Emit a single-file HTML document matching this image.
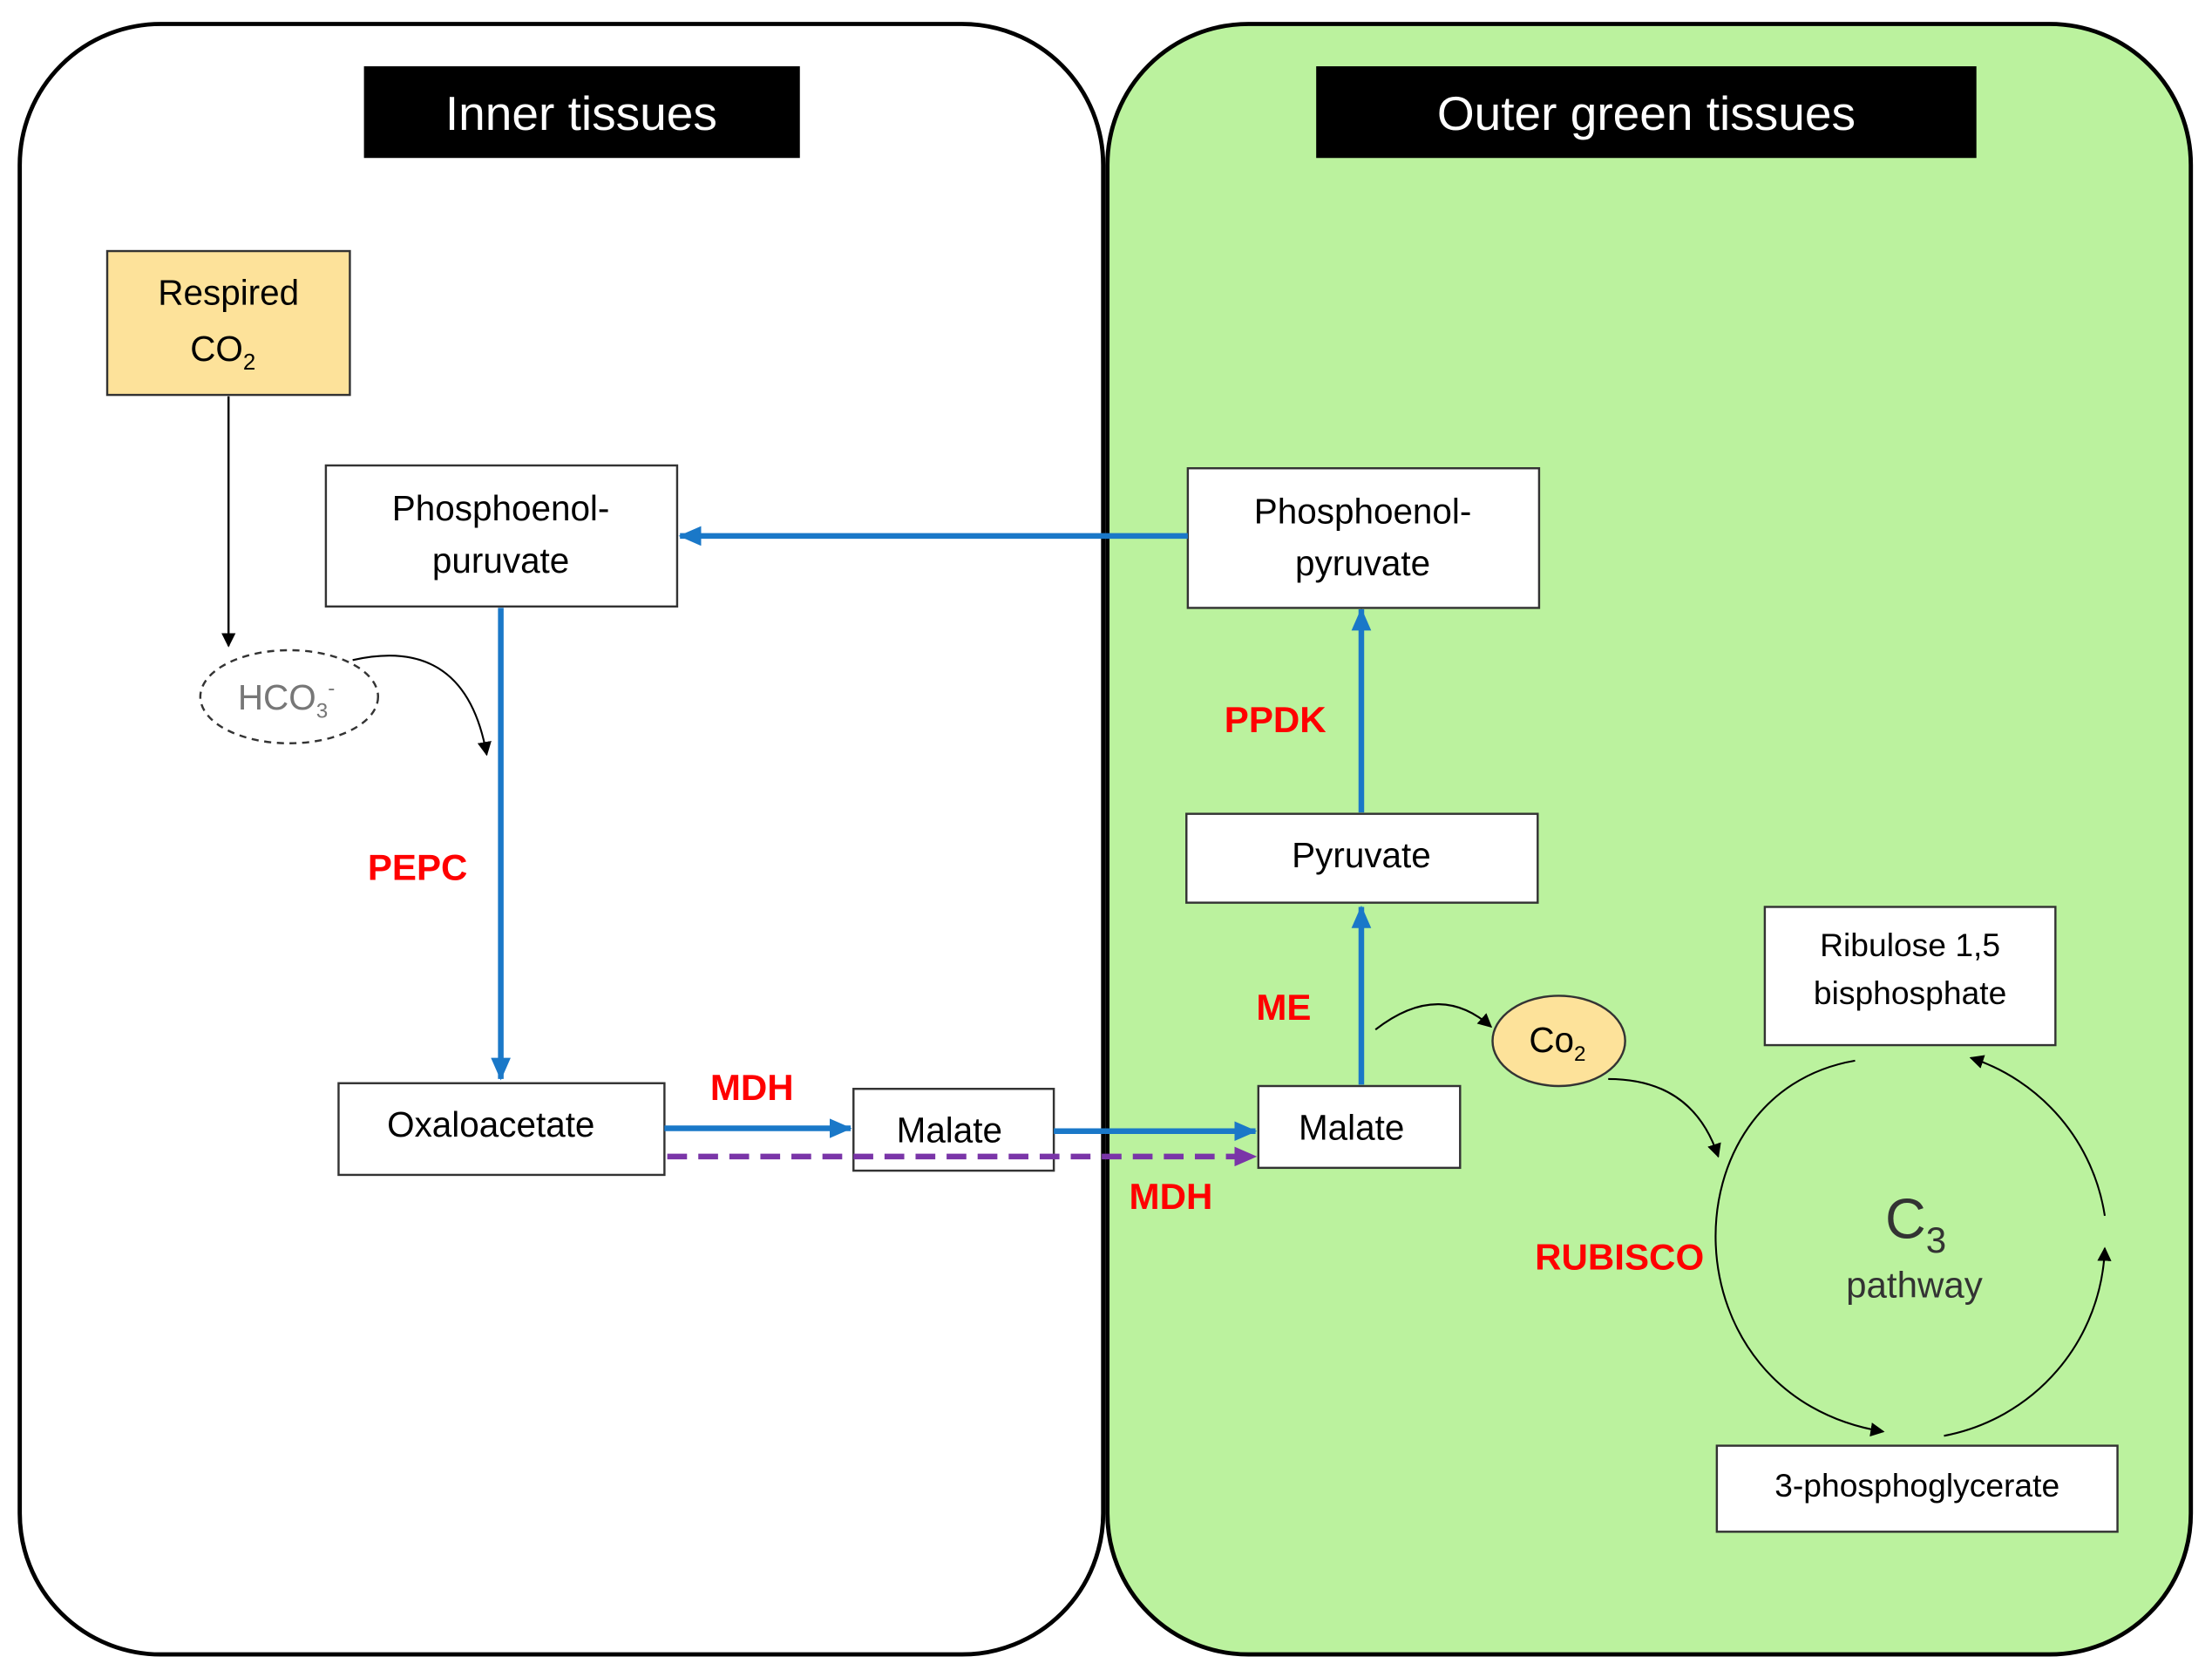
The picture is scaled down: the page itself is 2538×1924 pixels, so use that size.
<!DOCTYPE html>
<html><head><meta charset="utf-8"><style>
html,body{margin:0;padding:0;background:#fff;}
svg{display:block;}
text{font-family:"Liberation Sans",sans-serif;}
</style></head><body>
<svg width="2538" height="1924" viewBox="0 0 1568 1189" preserveAspectRatio="none" xmlns="http://www.w3.org/2000/svg">
<defs>
<marker id="ab" markerWidth="10" markerHeight="10" refX="9" refY="5" orient="auto" markerUnits="userSpaceOnUse"><path d="M0,0 L10,5 L0,10 z" fill="#000"/></marker>
<marker id="abl" markerWidth="16" markerHeight="14" refX="15" refY="7" orient="auto" markerUnits="userSpaceOnUse"><path d="M0,0 L16,7 L0,14 z" fill="#1a78c8"/></marker>
<marker id="apu" markerWidth="16" markerHeight="14" refX="15" refY="7" orient="auto" markerUnits="userSpaceOnUse"><path d="M0,0 L16,7 L0,14 z" fill="#7a35a8"/></marker>
</defs>
<rect width="1568" height="1189" fill="#fff"/>
<rect x="14" y="17" width="768" height="1156" rx="100" fill="#fff" stroke="#000" stroke-width="3"/>
<rect x="785" y="17" width="768" height="1156" rx="100" fill="#bbf29e" stroke="#000" stroke-width="3"/>
<rect x="258" y="47" width="309" height="65" fill="#000"/>
<text x="412" y="92" font-size="34" fill="#fff" text-anchor="middle">Inner tissues</text>
<rect x="933" y="47" width="468" height="65" fill="#000"/>
<text x="1167" y="92" font-size="34" fill="#fff" text-anchor="middle">Outer green tissues</text>

<g font-size="25" text-anchor="middle" fill="#000">
<rect x="76" y="178" width="172" height="102" fill="#fde29a" stroke="#333" stroke-width="1.5"/>
<text x="162" y="216">Respired</text>
<text x="158" y="256">CO<tspan font-size="16" dy="6">2</tspan></text>
<line x1="162" y1="281" x2="162" y2="458" stroke="#000" stroke-width="1.5" marker-end="url(#ab)"/>
<ellipse cx="205" cy="494" rx="63" ry="33" fill="#fff" stroke="#333" stroke-width="1.5" stroke-dasharray="5,4"/>
<text x="203" y="503" fill="#777">HCO<tspan font-size="15" dy="6">3</tspan><tspan font-size="15" dy="-16">-</tspan></text>
<path d="M250,468 Q330,450 345,535" fill="none" stroke="#000" stroke-width="1.3" marker-end="url(#ab)"/>

<rect x="231" y="330" width="249" height="100" fill="#fff" stroke="#333" stroke-width="1.5"/>
<text x="355" y="369">Phosphoenol-</text>
<text x="355" y="406">puruvate</text>
<line x1="355" y1="431" x2="355" y2="765" stroke="#1a78c8" stroke-width="4" marker-end="url(#abl)"/>
<text x="296" y="624" fill="#f00" font-weight="bold" font-size="26">PEPC</text>

<rect x="240" y="768" width="231" height="65" fill="#fff" stroke="#333" stroke-width="1.5"/>
<text x="348" y="806">Oxaloacetate</text>
<text x="533" y="780" fill="#f00" font-weight="bold" font-size="26">MDH</text>
<line x1="471" y1="800" x2="603" y2="800" stroke="#1a78c8" stroke-width="4" marker-end="url(#abl)"/>
<rect x="605" y="772" width="142" height="58" fill="#fff" stroke="#333" stroke-width="1.5"/>
<text x="673" y="810">Malate</text>
<line x1="747" y1="802" x2="890" y2="802" stroke="#1a78c8" stroke-width="4" marker-end="url(#abl)"/>
<line x1="473" y1="820" x2="890" y2="820" stroke="#7a35a8" stroke-width="4" stroke-dasharray="14,8" marker-end="url(#apu)"/>
<text x="830" y="857" fill="#f00" font-weight="bold" font-size="26">MDH</text>

<rect x="892" y="770" width="143" height="58" fill="#fff" stroke="#333" stroke-width="1.5"/>
<text x="958" y="808">Malate</text>
<text x="910" y="723" fill="#f00" font-weight="bold" font-size="26">ME</text>
<line x1="965" y1="769" x2="965" y2="643" stroke="#1a78c8" stroke-width="4" marker-end="url(#abl)"/>
<rect x="841" y="577" width="249" height="63" fill="#fff" stroke="#333" stroke-width="1.5"/>
<text x="965" y="615">Pyruvate</text>
<text x="904" y="519" fill="#f00" font-weight="bold" font-size="26">PPDK</text>
<line x1="965" y1="576" x2="965" y2="432" stroke="#1a78c8" stroke-width="4" marker-end="url(#abl)"/>
<rect x="842" y="332" width="249" height="99" fill="#fff" stroke="#333" stroke-width="1.5"/>
<text x="966" y="371">Phosphoenol-</text>
<text x="966" y="408">pyruvate</text>
<line x1="842" y1="380" x2="482" y2="380" stroke="#1a78c8" stroke-width="4" marker-end="url(#abl)"/>

<path d="M975,730 Q1020,695 1057,728" fill="none" stroke="#000" stroke-width="1.3" marker-end="url(#ab)"/>
<ellipse cx="1105" cy="738" rx="47" ry="32" fill="#fde29a" stroke="#333" stroke-width="1.5"/>
<text x="1104" y="746">Co<tspan font-size="15" dy="6">2</tspan></text>
<path d="M1140,765 Q1200,765 1218,820" fill="none" stroke="#000" stroke-width="1.3" marker-end="url(#ab)"/>

<rect x="1251" y="643" width="206" height="98" fill="#fff" stroke="#333" stroke-width="1.5"/>
<text x="1354" y="678" font-size="23">Ribulose 1,5</text>
<text x="1354" y="712" font-size="23">bisphosphate</text>
<rect x="1217" y="1025" width="284" height="61" fill="#fff" stroke="#333" stroke-width="1.5"/>
<text x="1359" y="1061" font-size="23">3-phosphoglycerate</text>

<path d="M1315,752 C1180,775 1180,990 1335,1015" fill="none" stroke="#000" stroke-width="1.3" marker-end="url(#ab)"/>
<path d="M1378,1018 A140,140 0 0 0 1492,885" fill="none" stroke="#000" stroke-width="1.3" marker-end="url(#ab)"/>
<path d="M1492,862 A140,140 0 0 0 1397,750" fill="none" stroke="#000" stroke-width="1.3" marker-end="url(#ab)"/>
<text x="1358" y="878" font-size="40" fill="#333">C<tspan font-size="26" dy="10">3</tspan></text>
<text x="1357" y="920" font-size="26" fill="#333">pathway</text>
<text x="1148" y="900" fill="#f00" font-weight="bold" font-size="26">RUBISCO</text>
</g>
</svg>
</body></html>
